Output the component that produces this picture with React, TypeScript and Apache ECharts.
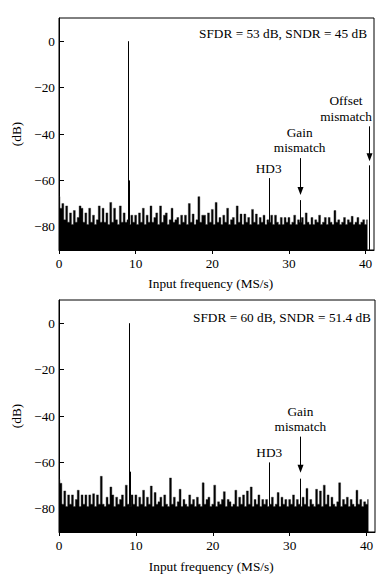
import React, { useEffect, useRef } from "react";
import * as echarts from "echarts";

// Noise-floor bins, one value every FREQ_STEP MS/s starting at 0 (dB)
const FREQ_STEP = 0.25;

const topNoise = [
  -67, -72, -70, -77, -71, -78, -74, -79,
  -73, -78, -76, -71, -72, -78, -74, -79,
  -72, -78, -75, -79, -77, -71, -78, -72,
  -78, -74, -79, -69.5, -78, -72, -77, -79,
  -71, -78, -74, -78, -77, -79, -75, -78,
  -75, -79, -74, -78, -72, -79, -75, -78,
  -71, -78, -76, -74, -79, -71, -78, -75,
  -74, -79, -77, -72, -78, -77, -76, -79,
  -75, -78, -75, -79, -70, -78, -74.5, -79,
  -77, -67, -78, -75, -75, -79, -74, -78,
  -72.5, -79, -69.5, -78, -76, -79, -75, -78,
  -72, -79, -77, -76, -79, -71, -78, -74.5,
  -79, -74.5, -78, -76, -79, -72.5, -78, -74.5,
  -79, -76, -78, -75, -79, -77, -78, -75,
  -79, -75, -78, -79, -76, -79, -76, -78,
  -76, -79, -78, -75, -79, -77, -78, -76,
  -79, -74, -78, -79, -76, -79, -77, -78,
  -75, -79, -78, -76, -79, -76, -78, -79,
  -73, -78, -77, -79, -78, -76, -79, -77,
  -78, -75.5, -79, -78, -76, -79, -78, -77,
  -79, -77,
];

const bottomNoise = [
  -67.4, -69, -78, -72.3, -79, -74, -78, -74,
  -79, -76, -72, -79, -74, -78, -74, -79,
  -74, -78, -73.5, -79, -74, -78, -66, -78,
  -79, -75, -78, -70.6, -74, -79, -75, -78,
  -76, -74, -79, -69.8, -78, -79, -74, -78,
  -74, -79, -75, -78, -72, -79, -75, -78,
  -70.2, -79, -73, -78, -77, -75, -79, -74,
  -78, -79, -66.7, -78, -75, -79, -77, -71.6,
  -79, -76, -78, -79, -74, -78, -76, -79,
  -75, -78, -79, -68.8, -78, -76, -75, -79,
  -78, -69.8, -79, -77, -78, -76, -72.6, -79,
  -76, -77, -79, -78, -72, -79, -75, -78,
  -74, -79, -72.3, -78, -70.6, -79, -76, -78,
  -74, -79, -76, -78, -76, -79, -78, -75,
  -79, -78, -73, -79, -75, -78, -76, -79,
  -76, -78, -74, -79, -76, -78, -79, -75,
  -78, -71.2, -79, -76, -78, -79, -71.6, -78,
  -72.3, -79, -69.8, -78, -74, -79, -75, -78,
  -79, -77, -68.8, -79, -76, -78, -75, -79,
  -76, -78, -79, -72, -78, -76, -79, -77,
  -78, -76,
];

// Discrete tones: [frequency (MS/s), level (dB)]
const topTones = [
  [9.05, 0],
  [9.18, -60],
  [27.35, -59],
  [31.4, -68.5],
  [40.45, -53.5],
];
const bottomTones = [
  [9.05, 0],
  [9.18, -64],
  [27.35, -60],
  [31.4, -67],
];

const yTickValues = [-80, -60, -40, -20, 0];
const topMetrics = "SFDR = 53 dB, SNDR = 45 dB";
const bottomMetrics = "SFDR = 60 dB, SNDR = 51.4 dB";
const xTitle = "Input frequency (MS/s)";
const yTitle = "(dB)";

const FONT = "'Liberation Serif', 'Times New Roman', serif";
const FS = 13.3;

const fmtY = (v: number) => (v < 0 ? "\u2212" + Math.abs(v) : String(v));

function makeX(gi: number) {
  return {
    type: "value",
    gridIndex: gi,
    min: 0,
    max: 41.1,
    interval: 10,
    axisLine: { show: true, onZero: false, lineStyle: { color: "#000", width: 1 } },
    axisTick: { show: true, inside: false, length: 4, lineStyle: { color: "#000", width: 1 } },
    axisLabel: { color: "#000", fontFamily: FONT, fontSize: FS, margin: 7 },
    splitLine: { show: false },
  };
}

function makeY(gi: number) {
  return {
    type: "value",
    gridIndex: gi,
    min: -90,
    max: 10,
    axisLine: { show: true, onZero: false, lineStyle: { color: "#000", width: 1 } },
    axisTick: {
      show: true,
      inside: true,
      length: 5,
      customValues: yTickValues,
      lineStyle: { color: "#000", width: 1 },
    },
    axisLabel: {
      color: "#000",
      fontFamily: FONT,
      fontSize: FS,
      margin: 4,
      customValues: yTickValues,
      formatter: fmtY,
    },
    splitLine: { show: false },
    name: yTitle,
    nameLocation: "middle",
    nameGap: 34,
    nameTextStyle: { color: "#000", fontFamily: FONT, fontSize: FS },
  };
}

function noiseSeries(gi: number, arr: number[]) {
  return {
    type: "line",
    xAxisIndex: gi,
    yAxisIndex: gi,
    data: arr.map((v, i) => [i * FREQ_STEP, v]),
    step: "middle",
    symbol: "none",
    silent: true,
    lineStyle: { color: "#222", width: 0.4 },
    areaStyle: { color: "#000", opacity: 1, origin: "start" },
  };
}

function toneSeries(gi: number, tones: number[][]) {
  return {
    type: "custom",
    coordinateSystem: "cartesian2d",
    xAxisIndex: gi,
    yAxisIndex: gi,
    silent: true,
    data: tones,
    renderItem: (params: any, api: any) => {
      const f = api.value(0);
      const v = api.value(1);
      const p0 = api.coord([f, -90]);
      const p1 = api.coord([f, v]);
      const x = Math.round(p0[0]) + 0.5;
      return {
        type: "line",
        shape: { x1: x, y1: p0[1], x2: x, y2: p1[1] },
        style: { stroke: "#000", lineWidth: 1 },
      };
    },
  };
}

function txt(text: string, x: number, y: number, align = "center") {
  return {
    type: "text",
    silent: true,
    style: {
      text,
      x,
      y,
      fill: "#000",
      fontFamily: FONT,
      fontSize: FS,
      align,
      textAlign: align,
      verticalAlign: "middle",
      textVerticalAlign: "middle",
    },
  };
}

function arrow(x: number, yTop: number, yTip: number) {
  return [
    {
      type: "line",
      silent: true,
      shape: { x1: x, y1: yTop, x2: x, y2: yTip - 6 },
      style: { stroke: "#000", lineWidth: 1 },
    },
    {
      type: "polygon",
      silent: true,
      shape: { points: [[x - 3, yTip - 8], [x + 3, yTip - 8], [x, yTip]] },
      style: { fill: "#000" },
    },
  ];
}

export default function App() {
  const ref = useRef<HTMLDivElement>(null);

  useEffect(() => {
    const chart = echarts.init(ref.current!, null, { renderer: "svg" });
    const gridBase = {
      show: true,
      borderColor: "#000",
      borderWidth: 1,
      backgroundColor: "transparent",
      containLabel: false,
    };
    chart.setOption({
      animation: false,
      backgroundColor: "#fff",
      textStyle: { fontFamily: FONT },
      grid: [
        { ...gridBase, left: 59, right: 16, top: 18, height: 232 },
        { ...gridBase, left: 59, right: 15, top: 300, height: 232 },
      ],
      xAxis: [makeX(0), makeX(1)],
      yAxis: [makeY(0), makeY(1)],
      series: [
        noiseSeries(0, topNoise),
        toneSeries(0, topTones),
        noiseSeries(1, bottomNoise),
        toneSeries(1, bottomTones),
      ],
    });

    const px = (gi: number, f: number, v: number) =>
      chart.convertToPixel({ gridIndex: gi } as any, [f, v]) as number[];

    const g: any[] = [];
    g.push(txt(topMetrics, 367, 33, "right"));
    g.push(txt(bottomMetrics, 371, 317.5, "right"));
    const t0 = px(0, 19.8, -90);
    const t1 = px(1, 19.8, -90);
    g.push(txt(xTitle, t0[0], t0[1] + 33));
    g.push(txt(xTitle, t1[0], t1[1] + 34.5));

    const off = px(0, topTones[4][0], topTones[4][1]);
    g.push(txt("Offset", off[0] - 23, off[1] - 65));
    g.push(txt("mismatch", off[0] - 23, off[1] - 49));
    g.push(...arrow(Math.round(off[0]) + 0.5, off[1] - 39, off[1] - 4));

    const gain0 = px(0, topTones[3][0], topTones[3][1]);
    g.push(txt("Gain", gain0[0], gain0[1] - 67.5));
    g.push(txt("mismatch", gain0[0], gain0[1] - 52.5));
    g.push(...arrow(Math.round(gain0[0]) + 0.5, gain0[1] - 42, gain0[1] - 5));

    const hd0 = px(0, topTones[2][0], topTones[2][1]);
    g.push(txt("HD3", hd0[0], hd0[1] - 9.5));

    const gain1 = px(1, bottomTones[3][0], bottomTones[3][1]);
    g.push(txt("Gain", gain1[0], gain1[1] - 67));
    g.push(txt("mismatch", gain1[0], gain1[1] - 52));
    g.push(...arrow(Math.round(gain1[0]) + 0.5, gain1[1] - 42, gain1[1] - 6));

    const hd1 = px(1, bottomTones[2][0], bottomTones[2][1]);
    g.push(txt("HD3", hd1[0], hd1[1] - 9.5));

    chart.setOption({ graphic: g });

    return () => chart.dispose();
  }, []);

  return (
    <div
      ref={ref}
      style={{ position: "fixed", left: 0, top: 0, width: 390, height: 580, background: "#fff" }}
    />
  );
}
